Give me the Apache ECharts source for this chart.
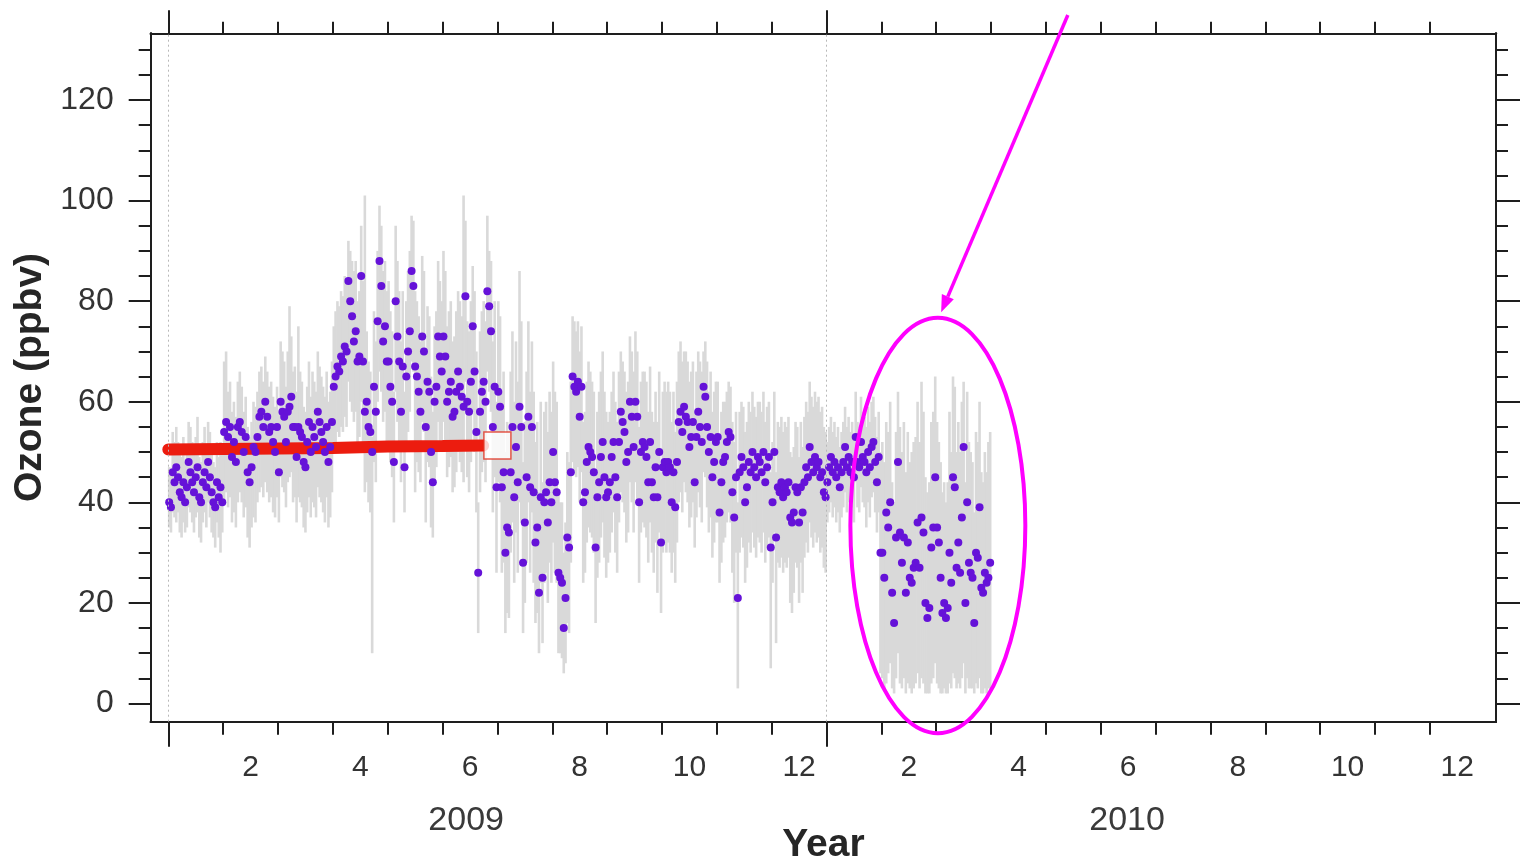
<!DOCTYPE html>
<html>
<head>
<meta charset="utf-8">
<script src="https://cdn.jsdelivr.net/npm/echarts@6/dist/echarts.min.js"></script>
<style>html,body{margin:0;padding:0;background:#fff}#c{width:1523px;height:863px}</style>
</head>
<body>
<div id="c"></div>
<script>
// ---- DATA ----
// month rows: 2009-01 ... 2010-03 (month index 0 = Jan 2009)
const monthNames = ['2009-01','2009-02','2009-03','2009-04','2009-05','2009-06','2009-07','2009-08','2009-09','2009-10','2009-11','2009-12','2010-01','2010-02','2010-03'];

// daily mean ozone (ppbv), one row per month
const ozoneMean = [
  [40,39,46,44,47,45,42,41,44,40,43,48,46,44,42,45,47,41,40,44,46,43,48,45,42,40,39,44,41,43,40],
  [54,56,53,55,49,52,48,55,56,54,50,53,46,44,47,51,50,53,57,58,55,60,57,54,55,52,50,55],
  [46,60,58,57,52,58,59,61,55,55,49,55,54,53,48,47,52,56,50,55,53,51,58,56,54,52,50,55,48,51,56],
  [63,65,67,66,69,68,71,70,84,80,77,72,74,68,69,85,68,58,60,55,54,50,63,58,76,88,83,72,75,68],
  [68,63,60,48,80,73,68,58,67,47,65,70,74,86,83,67,65,62,58,73,70,55,64,62,50,44,60,63,73,69,66],
  [73,69,60,62,64,57,58,62,66,63,61,59,81,60,58,64,75,66,54,26,58,62,64,60,82,79,74,55,63,43],
  [62,59,43,46,30,35,34,46,55,41,51,44,59,55,28,36,45,57,43,55,42,32,35,22,41,25,40,42,36,44,40],
  [50,44,42,26,25,24,15,21,33,31,46,65,63,62,64,57,63,40,42,48,51,50,49,46,31,41,44,49,52,45,41],
  [42,44,49,52,45,41,52,58,56,54,48,50,60,57,51,60,57,40,50,52,51,49,44,52,44,41,47,41,50,32],
  [47,48,46,48,47,40,46,39,48,56,58,54,59,57,56,51,53,56,44,53,58,55,52,63,61,55,50,53,45,48,52],
  [53,38,44,48,49,52,54,53,42,37,45,21,46,49,47,40,43,48,46,50,47,45,49,48,46,50,44,47,49,31],
  [40,50,33,43,42,44,41,43,42,44,37,36,38,43,42,36,43,38,44,47,45,51,48,46,49,47,48,45,46,42,41],
  [44,47,49,46,48,45,47,43,46,48,51,47,49,46,48,45,53,48,47,52,49,48,46,50,47,51,52,48,44,49,30],
  [30,25,38,35,40,22,16,33,48,34,28,33,22,32,25,24,27,28,36,27,37,34,20,17,19,31,35,45],
  [35,32,25,18,20,17,19,30,24,45,43,27,32,26,37,51,20,40,28,26,25,16,30,29,39,23,22,26,24,25,28]
];
// daily minimum (bottom of grey bar)
const ozoneLow = [
  [35,34,38,37,36,38,34,33,36,34,35,39,38,36,34,37,38,33,32,36,38,35,40,37,34,33,31,36,33,30,34],
  [40,42,39,41,36,38,35,40,42,40,37,39,33,31,35,37,36,40,42,43,41,44,42,40,41,38,37,41],
  [36,45,43,42,39,44,45,46,40,41,36,41,40,39,35,34,38,41,37,40,39,37,43,41,40,38,36,41,35,37,42],
  [50,52,54,53,55,54,57,55,64,60,58,56,58,52,53,60,50,42,44,40,38,10,48,44,60,66,62,56,58,52],
  [52,48,45,36,62,56,50,44,52,38,50,54,58,68,66,42,48,46,44,56,54,36,48,47,35,33,44,47,56,52,50],
  [56,52,45,47,49,42,43,46,50,48,46,44,64,45,42,48,58,50,38,14,42,46,48,44,66,62,58,38,45,26],
  [44,40,26,28,14,18,17,30,36,24,34,26,40,36,14,20,28,40,26,38,24,16,18,10,24,12,24,26,20,28,24],
  [32,26,24,10,10,9,6,8,16,14,28,48,46,45,47,40,46,24,26,32,35,34,33,30,16,25,28,33,36,29,25],
  [28,30,34,38,30,26,36,42,40,38,32,34,44,40,34,44,40,24,34,36,35,33,28,36,30,26,32,22,34,18],
  [30,32,30,32,30,26,30,24,32,40,42,38,44,42,40,35,37,40,31,37,42,39,36,46,45,39,34,37,29,32,36],
  [36,24,28,32,33,36,38,36,26,20,30,3,30,33,31,24,27,32,30,34,31,29,33,32,30,34,28,31,33,7],
  [24,34,12,28,27,29,26,28,27,29,20,18,22,28,27,20,28,22,29,32,30,36,33,31,34,32,33,30,31,27,26],
  [36,38,40,37,39,36,38,34,37,39,42,38,40,37,39,36,44,39,38,43,40,39,35,40,37,41,42,38,34,38,6],
  [5,3,4,6,8,3,2,5,10,4,3,5,2,4,3,2,3,4,6,3,5,4,2,2,2,4,5,8],
  [4,3,2,2,3,2,2,4,3,6,5,3,4,3,5,8,2,5,3,3,3,2,4,3,5,2,2,3,2,3,3]
];
// daily maximum (top of grey bar)
const ozoneHigh = [
  [47,46,54,52,55,52,50,49,53,48,51,56,55,52,50,53,57,49,48,52,55,51,56,54,50,48,47,52,49,52,50],
  [68,70,62,64,58,60,57,64,66,63,58,61,55,53,56,60,59,62,66,67,64,69,66,63,64,61,59,63],
  [58,72,70,68,63,70,79,73,66,67,62,75,66,64,59,58,63,68,61,66,64,62,70,67,65,63,61,66,60,62,68],
  [75,78,80,79,82,81,85,84,92,90,88,86,88,80,82,95,84,101,74,68,66,53,78,72,90,99,95,86,88,82],
  [84,78,74,62,95,88,82,72,82,62,80,86,90,97,96,82,80,77,72,89,86,70,79,77,65,58,75,78,88,84,80],
  [90,86,75,78,80,72,73,78,82,80,77,101,96,76,74,80,87,82,70,40,74,78,80,76,97,90,88,72,80,60],
  [80,77,62,66,50,56,54,66,74,60,72,64,86,76,48,56,66,76,62,72,62,52,56,42,60,44,58,60,54,62,58],
  [68,62,60,42,40,40,30,36,50,48,64,77,76,74,76,70,75,56,58,64,68,66,64,62,46,58,62,66,70,62,58],
  [56,58,62,66,60,56,66,70,68,66,62,64,73,70,66,74,70,55,64,66,66,64,58,67,58,56,62,56,66,46],
  [62,64,62,64,62,56,62,54,64,70,72,68,70,70,68,64,66,68,58,66,70,68,66,70,72,68,62,66,58,62,64],
  [64,52,58,60,60,62,64,63,56,52,58,40,58,60,59,54,56,60,58,62,59,57,60,60,58,62,56,59,60,46],
  [52,62,46,56,55,57,54,56,55,57,50,49,51,56,55,49,56,51,57,60,58,64,61,59,62,60,61,58,59,55,54],
  [52,55,57,54,56,53,55,51,54,56,59,55,57,54,56,53,62,56,55,61,58,57,55,59,56,60,61,57,53,58,50],
  [52,48,56,54,60,44,40,54,62,55,50,56,46,54,48,50,52,53,60,52,64,58,45,42,44,56,58,65],
  [56,52,48,42,44,40,44,58,50,65,63,50,56,50,60,64,44,62,52,50,48,38,54,52,60,46,44,50,46,52,54]
];

// reference mean (red bar), months since Jan 2009
const refMeanMonths = [0, 1, 2, 3, 4, 5, 5.74];
const refMeanValues = [50.5, 50.6, 50.7, 50.8, 51.1, 51.2, 51.3];
const refMarker = [6.0, 51.3];

// axis ticks / labels
const yMajorTicks = [0, 20, 40, 60, 80, 100, 120];
const yMinorTicks = [5, 10, 15, 25, 30, 35, 45, 50, 55, 65, 70, 75, 85, 90, 95, 105, 110, 115, 125, 130];
const xYearStarts = [0, 12];
const xMonthTicks = [1,2,3,4,5,6,7,8,9,10,11,13,14,15,16,17,18,19,20,21,22,23];
const monthLabelNumbers = ['2','4','6','8','10','12','2','4','6','8','10','12'];
const yearLabels = ['2009', '2010'];
const yearLabelPositions = [5.43, 17.48];

// annotation (data coordinates)
const ellipseCenter = [14.03, 35.4];
const ellipseRadius = [1.595, 41.3];
const arrowStart = [16.40, 136.9];
const arrowEnd = [14.09, 77.8];

// ---- BUILD ----
const XMIN = -0.321, XMAX = 24.206, YMIN = -3.62, YMAX = 133.27;
const barData = [], dotData = [];
ozoneMean.forEach((row, m) => {
  row.forEach((v, i) => {
    const x = m + (i + 0.5) / row.length;
    barData.push([x, ozoneLow[m][i], ozoneHigh[m][i]]);
    dotData.push([x, v]);
  });
});
const monthLabelPositions = monthLabelNumbers.map((_, k) => 1.5 + 2 * k);

const FONT = '"Liberation Sans", Arial, sans-serif';
const AX = '#1e1e1e';
function xAx(pos, ticks, len, label) {
  return {
    type: 'value', position: pos, min: XMIN, max: XMAX, gridIndex: 0,
    axisLine: { show: true, onZero: false, lineStyle: { color: AX, width: 2 } },
    axisTick: { show: ticks.length > 0, customValues: ticks, length: len, inside: false, lineStyle: { color: AX, width: 2 } },
    axisLabel: label || { show: false },
    splitLine: { show: false }, minorTick: { show: false }
  };
}
function yAx(pos, ticks, len, label, extra) {
  return Object.assign({
    type: 'value', position: pos, min: YMIN, max: YMAX, gridIndex: 0,
    axisLine: { show: true, onZero: false, lineStyle: { color: AX, width: 2 } },
    axisTick: { show: true, customValues: ticks, length: len, inside: false, lineStyle: { color: AX, width: 2 } },
    axisLabel: label || { show: false },
    splitLine: { show: false }, minorTick: { show: false }
  }, extra || {});
}

const chart = echarts.init(document.getElementById('c'), null, { renderer: 'canvas' });
const option = {
  animation: false,
  backgroundColor: '#ffffff',
  grid: { left: 150.7, right: 27, top: 33.3, bottom: 141.3, containLabel: false, outerBoundsMode: 'none' },
  xAxis: [
    xAx('bottom', xMonthTicks, 13, {
      show: true, customValues: monthLabelPositions, margin: 31,
      fontFamily: FONT, fontSize: 30, color: '#333',
      formatter: v => monthLabelNumbers[Math.round((v - 1.5) / 2)]
    }),
    Object.assign(xAx('bottom', xYearStarts, 25), {
      name: 'Year', nameLocation: 'middle', nameGap: 104, nameMoveOverlap: false,
      nameTextStyle: { fontFamily: FONT, fontSize: 39, fontWeight: 'bold', color: '#262626' }
    }),
    xAx('bottom', [], 0, {
      show: true, customValues: yearLabelPositions, margin: 82,
      fontFamily: FONT, fontSize: 34, color: '#3a3a3a',
      formatter: v => yearLabels[v < 12 ? 0 : 1]
    }),
    xAx('top', xMonthTicks, 11.6),
    xAx('top', xYearStarts, 23)
  ],
  yAxis: [
    yAx('left', yMajorTicks, 22, {
      show: true, customValues: yMajorTicks, margin: 37,
      fontFamily: FONT, fontSize: 32, color: '#333'
    }, {
      name: 'Ozone (ppbv)', nameLocation: 'middle', nameGap: 101, nameMoveOverlap: false,
      nameTextStyle: { fontFamily: FONT, fontSize: 39, fontWeight: 'bold', color: '#262626' }
    }),
    yAx('left', yMinorTicks, 12),
    yAx('right', yMajorTicks, 24),
    yAx('right', yMinorTicks, 12)
  ],
  series: [
    {
      type: 'custom', xAxisIndex: 0, yAxisIndex: 0, z: 2, silent: true,
      data: barData,
      encode: { x: 0, y: [1, 2] },
      renderItem: function (params, api) {
        const p1 = api.coord([api.value(0), api.value(1)]);
        const p2 = api.coord([api.value(0), api.value(2)]);
        return { type: 'line', shape: { x1: p1[0], y1: p1[1], x2: p2[0], y2: p2[1] },
                 style: { stroke: '#d9d9d9', lineWidth: 2.6 } };
      },
      markLine: {
        silent: true, symbol: 'none', label: { show: false },
        lineStyle: { color: '#b8b8b8', width: 1, type: [2, 3] },
        data: xYearStarts.map(v => ({ xAxis: v }))
      }
    },
    {
      type: 'line', xAxisIndex: 0, yAxisIndex: 0, z: 3, silent: true,
      data: refMeanMonths.map((m, i) => [m, refMeanValues[i]]),
      symbol: 'none', lineStyle: { color: '#ec1c0f', width: 12, cap: 'round' }
    },
    {
      type: 'scatter', xAxisIndex: 0, yAxisIndex: 0, z: 4, silent: true,
      data: dotData, symbolSize: 8,
      itemStyle: { color: '#6512d8', opacity: 1 }
    },
    {
      type: 'scatter', xAxisIndex: 0, yAxisIndex: 0, z: 5, silent: true,
      data: [refMarker], symbol: 'rect', symbolSize: 27,
      itemStyle: { color: '#ffffff', borderColor: '#e0301e', borderWidth: 1.5 }
    }
  ]
};
chart.setOption(option);

// annotation: ellipse + arrow placed from data coordinates
const toPx = p => chart.convertToPixel({ xAxisIndex: 0, yAxisIndex: 0 }, p);
const c = toPx(ellipseCenter);
const e = toPx([ellipseCenter[0] + ellipseRadius[0], ellipseCenter[1] + ellipseRadius[1]]);
const a0 = toPx(arrowStart), a1 = toPx(arrowEnd);
const dx = a1[0] - a0[0], dy = a1[1] - a0[1], L = Math.hypot(dx, dy);
const ux = dx / L, uy = dy / L, HL = 17, HW = 6.5;
const bx = a1[0] - ux * HL, by = a1[1] - uy * HL;
chart.setOption({
  graphic: [
    { type: 'ellipse', z: 100, shape: { cx: c[0], cy: c[1], rx: e[0] - c[0], ry: c[1] - e[1] },
      style: { fill: 'none', stroke: '#ff00ff', lineWidth: 4 } },
    { type: 'line', z: 100, shape: { x1: a0[0], y1: a0[1], x2: bx, y2: by },
      style: { stroke: '#ff00ff', lineWidth: 3.5 } },
    { type: 'polygon', z: 100, shape: { points: [[a1[0], a1[1]], [bx - uy * HW, by + ux * HW], [bx + uy * HW, by - ux * HW]] },
      style: { fill: '#ff00ff' } }
  ]
});
</script>
</body>
</html>
